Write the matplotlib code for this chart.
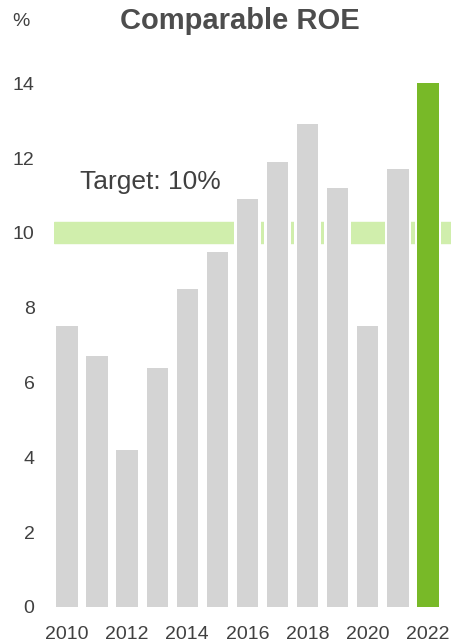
import matplotlib
matplotlib.use("Agg")
from matplotlib import pyplot as plt

years = [2010, 2011, 2012, 2013, 2014, 2015, 2016, 2017, 2018, 2019, 2020, 2021, 2022]
roe = [7.5, 6.7, 4.2, 6.4, 8.5, 9.5, 10.9, 11.9, 12.9, 11.2, 7.5, 11.7, 14.0]
target = 10
band_half = 0.28
year_ticks = [2010, 2012, 2014, 2016, 2018, 2020, 2022]
y_ticks = [0, 2, 4, 6, 8, 10, 12, 14]

plt.rcParams['font.family'] = ['Liberation Sans', 'DejaVu Sans']
text_col = "#404040"
gray = "#d4d4d4"
green = "#78b928"
band_col = "#d0eeac"

fig = plt.figure(figsize=(4.52, 6.44), dpi=100)
ax = fig.add_axes([0.1195, 0.0575, 0.8805, 0.8305])

ax.axhspan(target - band_half, target + band_half, color=band_col, zorder=1)

colors = [gray] * (len(years) - 1) + [green]
# white halo around bars cuts the target band
ax.bar(years, roe, width=0.88, color="white", zorder=2)
ax.bar(years, roe, width=0.71, color=colors, zorder=3)

ax.text(2010.45, 11.35, "Target: 10%", fontsize=19, color=text_col, va="center", ha="left")

ax.set_xlim(2009.57, 2022.8)
ax.set_ylim(0, 14.3)
ax.set_xticks(year_ticks)
ax.set_yticks(y_ticks)
ax.tick_params(axis="both", length=0, labelsize=14, labelcolor=text_col)
ax.tick_params(axis="x", pad=14)
ax.tick_params(axis="y", pad=14)
for s in ax.spines.values():
    s.set_visible(False)

fig.text(0.531, 0.968, "Comparable ROE", fontsize=21, fontweight="bold", color="#4d4d4d",
         ha="center", va="center")
fig.text(0.047, 0.966, "%", fontsize=14, color=text_col, ha="center", va="center")

fig.savefig("out.png", dpi=100)
